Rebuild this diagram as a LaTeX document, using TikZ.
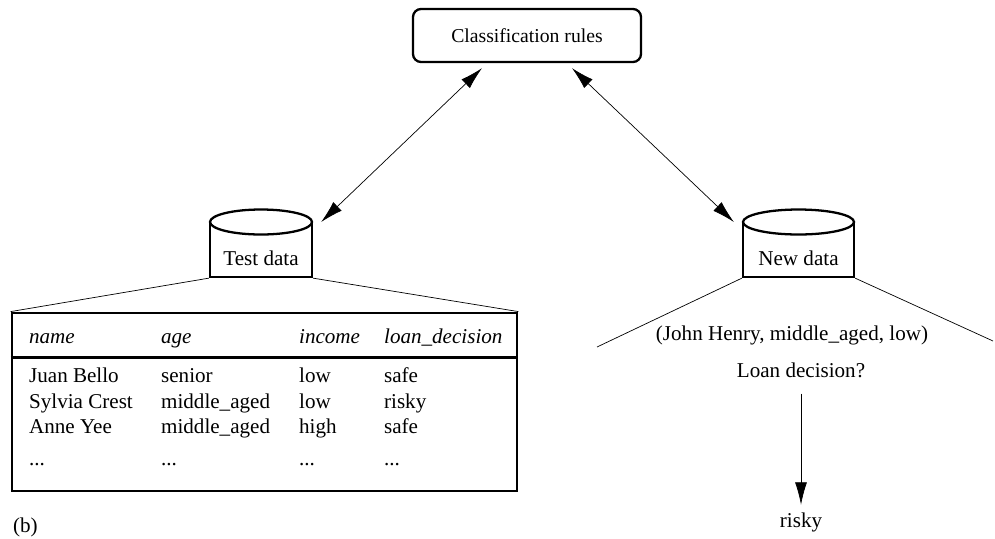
\documentclass[tikz,border=0pt]{standalone}
\usepackage{fontspec}
\setmainfont{Liberation Serif}
\usetikzlibrary{shapes.geometric,arrows.meta}
\pgfdeclarelayer{bg}
\pgfsetlayers{bg,main}
\tikzset{
    every node/.style={inner sep=0mm, font=\fontsize{12}{14}\selectfont}
}
\tikzset{
    rulebox/.style={draw, rounded corners=1.6mm, minimum width=4.56cm, minimum height=1.06cm, font=\fontsize{11.2}{13}\selectfont},
    dbbody/.style={draw, rectangle, minimum height=1.1cm},
    dbtop/.style={draw, ellipse, fill=white, minimum height=0.5cm},
    cell/.style={anchor=base west},
    hcell/.style={anchor=base west, font=\fontsize{12}{14}\selectfont\itshape},
    link/.style={{Latex[length=4.5mm,width=2.4mm]}-{Latex[length=4.5mm,width=2.4mm]}}
}

\begin{document}
\begin{tikzpicture}[line width=1.3pt]
    \useasboundingbox (0cm, 0cm) rectangle (19.9cm, -10.76cm);

    \node (rules) [rulebox] at (10.54cm, -0.71cm) {Classification rules};

    \node (testdb) [dbbody, minimum width=2.04cm] at (5.22cm, -4.99cm) {};
    \node (testtop) [dbtop, minimum width=2.04cm] at (5.22cm, -4.44cm) {};
    \node (testlbl) at (5.22cm, -5.16cm) {Test data};

    \node (newdb) [dbbody, minimum width=2.22cm] at (15.97cm, -4.99cm) {};
    \node (newtop) [dbtop, minimum width=2.22cm] at (15.97cm, -4.44cm) {};
    \node (newlbl) at (15.97cm, -5.16cm) {New data};

    % test table
    \node (tbl) [draw, line width=1.6pt, minimum width=10.1cm, minimum height=3.56cm] at (5.29cm, -8.04cm) {};
    \draw ([yshift=-0.92cm]tbl.north west) -- ([yshift=-0.92cm]tbl.north east);
    \node (hname) [hcell] at (0.56cm, -6.86cm) {name};
    \node (hage) [hcell] at (3.2cm, -6.86cm) {age};
    \node (hinc) [hcell] at (5.96cm, -6.86cm) {income};
    \node (hloan) [hcell] at (7.66cm, -6.86cm) {loan\_decision};

    \node (n1) [cell] at (0.56cm, -7.64cm) {Juan Bello};
    \node (a1) [cell] at (3.2cm, -7.64cm) {senior};
    \node (i1) [cell] at (5.96cm, -7.64cm) {low};
    \node (d1) [cell] at (7.66cm, -7.64cm) {safe};
    \node (n2) [cell] at (0.56cm, -8.16cm) {Sylvia Crest};
    \node (a2) [cell] at (3.2cm, -8.16cm) {middle\_aged};
    \node (i2) [cell] at (5.96cm, -8.16cm) {low};
    \node (d2) [cell] at (7.66cm, -8.16cm) {risky};
    \node (n3) [cell] at (0.56cm, -8.66cm) {Anne Yee};
    \node (a3) [cell] at (3.2cm, -8.66cm) {middle\_aged};
    \node (i3) [cell] at (5.96cm, -8.66cm) {high};
    \node (d3) [cell] at (7.66cm, -8.66cm) {safe};
    \node (n4) [cell] at (0.56cm, -9.3cm) {...};
    \node (a4) [cell] at (3.2cm, -9.3cm) {...};
    \node (i4) [cell] at (5.96cm, -9.3cm) {...};
    \node (d4) [cell] at (7.66cm, -9.3cm) {...};

    \node (sub) [cell] at (0.24cm, -10.64cm) {(b)};

    % new tuple
    \coordinate (nl) at (11.94cm, -6.94cm);
    \coordinate (nr) at (19.86cm, -6.82cm);
    \node (query) at (15.84cm, -6.7cm) {(John Henry, middle\_aged, low)};
    \node (ask) at (16.02cm, -7.4cm) {Loan decision?};
    \node (risky) at (16.02cm, -10.44cm) {risky};

    \begin{pgfonlayer}{bg}
        \draw (testdb.south west) -- (tbl.north west);
        \draw (testdb.south east) -- (tbl.north east);

        \draw (newdb.south west) -- (nl);
        \draw (newdb.south east) -- (nr);

        \draw [link] ([xshift=-0.9cm, yshift=-0.1cm]rules.south) -- ([xshift=0.16cm]testtop.east);
        \draw [link] ([xshift=0.9cm, yshift=-0.1cm]rules.south) -- ([xshift=-0.16cm]newtop.west);

        \draw [-{Latex[length=4.5mm,width=2.4mm]}, shorten <=0.3cm, shorten >=0.13cm] (ask.south) -- (risky.north);
    \end{pgfonlayer}
\end{tikzpicture}
\end{document}
